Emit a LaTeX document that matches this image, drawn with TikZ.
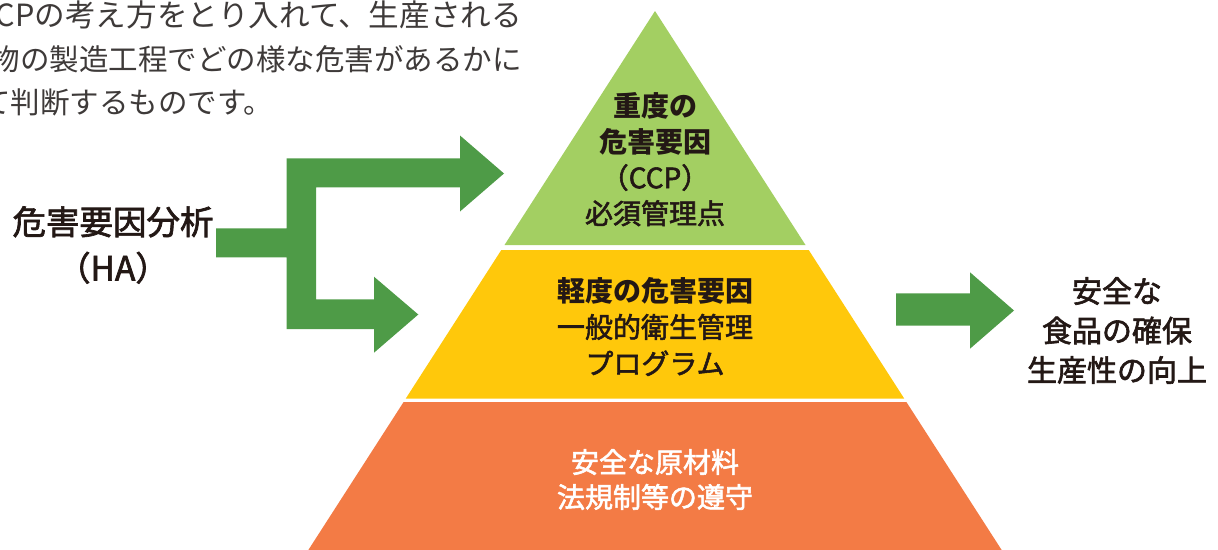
\documentclass[tikz,border=0pt]{standalone}
\usepackage{fontspec}
\setmainfont{Noto Sans CJK JP}
\newfontfamily\jpmed{Noto Sans CJK JP}[FakeBold=2.0]
\definecolor{lgreen}{HTML}{A3CF62}
\definecolor{lyellow}{HTML}{FFC80B}
\definecolor{lorange}{HTML}{F37B45}
\definecolor{agreen}{HTML}{4E9B47}
\definecolor{ink}{HTML}{231815}
\definecolor{para}{HTML}{3E3A39}
\tikzset{
  lbl/.style={inner sep=0pt, align=center, text=ink},
  paraline/.style={inner sep=0pt, text=para, font=\fontsize{29.5}{36}\selectfont},
  arrowshape/.style={fill=agreen, draw=none},
}
\begin{document}
\begin{tikzpicture}[x=1pt,y=-1pt]
\useasboundingbox (0,0) rectangle (1218,549);
\clip (0,0) rectangle (1218,549);
% pyramid layers
\fill[lgreen] (655,11) -- (805.5,245) -- (504.5,245) -- cycle;
\fill[lyellow] (501.3,250) -- (808.7,250) -- (904.2,398.5) -- (405.8,398.5) -- cycle;
\fill[lorange] (403.6,402) -- (906.4,402) -- (1008.1,560) -- (301.9,560) -- cycle;
% arrows
\fill[arrowshape] (216,228.3) -- (286.7,228.3) -- (286.7,158.3) -- (460,158.3) -- (460,135.5)
  -- (504,173.5) -- (460,211.5) -- (460,187.3) -- (316,187.3) -- (316,299.3) -- (374,299.3)
  -- (374,276.7) -- (418.3,314.5) -- (374,352.7) -- (374,329) -- (286.7,329) -- (286.7,257.3)
  -- (216,257.3) -- cycle;
\fill[arrowshape] (896,293.3) -- (970,293.3) -- (970,272.3) -- (1014,310.5) -- (970,348.7)
  -- (970,325.7) -- (896,325.7) -- cycle;
% paragraph (cut at left edge, as in the reference)
\node[paraline, font=\fontsize{30.6}{36}\selectfont, anchor=east] (p1) at (522,15) {HACCPの考え方をとり入れて、生産される};
\node[paraline, anchor=east] (p2) at (522,59) {物の製造工程でどの様な危害があるかに};
\node[paraline, anchor=east] (p3) at (273.5,102) {について判断するものです。};
% labels
\node[lbl, font=\fontsize{28}{35.7}\selectfont] (ccp) at (655,159.5)
  {{\bfseries 重度の}\\{\bfseries 危害要因}\\{\jpmed （CCP）}\\{\jpmed 必須管理点}};
\node[lbl, font=\fontsize{28}{36.5}\selectfont] (gen) at (655,326.5)
  {{\bfseries 軽度の危害要因}\\{\jpmed 一般的衛生管理}\\{\jpmed プログラム}};
\node[lbl, text=white, font=\fontsize{28}{35}\selectfont\jpmed] (base) at (655,479.5)
  {安全な原材料\\法規制等の遵守};
\node[lbl, font=\fontsize{33.5}{46}\selectfont\jpmed] (ha) at (113,245)
  {危害要因分析\\（HA）};
\node[lbl, font=\fontsize{30}{39.5}\selectfont\jpmed] (res) at (1117,330.5)
  {安全な\\食品の確保\\生産性の向上};
\end{tikzpicture}
\end{document}
